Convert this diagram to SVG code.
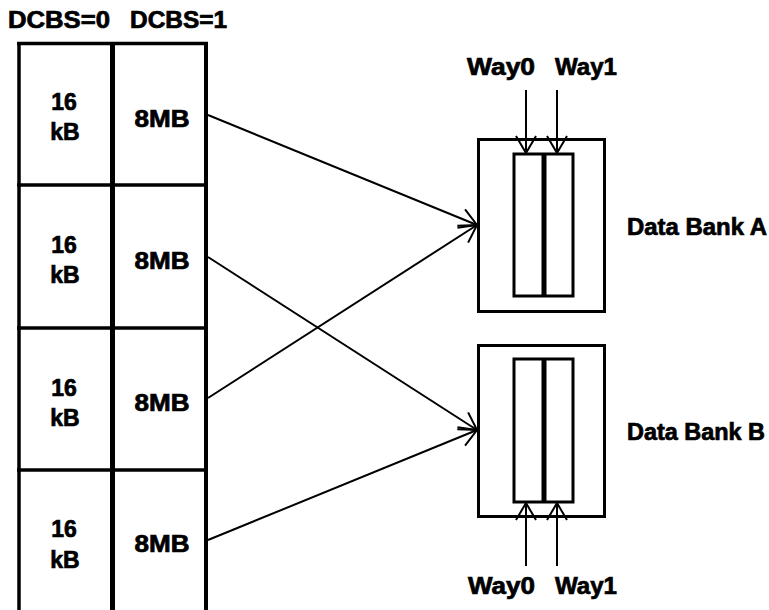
<svg xmlns="http://www.w3.org/2000/svg" width="769" height="610" viewBox="0 0 769 610">
<style>
text{font-family:"Liberation Sans",Arial,sans-serif;font-weight:bold;font-size:23px;fill:#000;stroke:#000;stroke-width:0.7}
.c{text-anchor:middle}
.tb{stroke:#000;fill:none}
.bx{stroke:#000;stroke-width:3;fill:#fff}
.cn{stroke:#000;stroke-width:2;fill:none;marker-end:url(#ah)}
</style>
<defs>
<marker id="ah" markerUnits="userSpaceOnUse" viewBox="-20 -12 22 24" refX="0" refY="0" markerWidth="22" markerHeight="24" orient="auto">
<path d="M-17,-10 L0,0 L-17,10" fill="none" stroke="#000" stroke-width="2"/>
</marker>
</defs>
<rect width="769" height="610" fill="#fff"/>
<g id="headers">
<text x="8" y="28" textLength="102" lengthAdjust="spacingAndGlyphs">DCBS=0</text>
<text x="130" y="28" textLength="97" lengthAdjust="spacingAndGlyphs">DCBS=1</text>
</g>
<g id="table">
<line class="tb" x1="19" y1="42" x2="19" y2="610" stroke-width="3.5"/>
<line class="tb" x1="112.5" y1="42" x2="112.5" y2="610" stroke-width="5"/>
<line class="tb" x1="206" y1="42" x2="206" y2="610" stroke-width="4"/>
<line class="tb" x1="17" y1="43.5" x2="208" y2="43.5" stroke-width="3.5"/>
<line class="tb" x1="17" y1="185" x2="208" y2="185" stroke-width="3.5"/>
<line class="tb" x1="17" y1="328" x2="208" y2="328" stroke-width="3.5"/>
<line class="tb" x1="17" y1="470" x2="208" y2="470" stroke-width="3.5"/>
</g>
<g id="row1">
<text class="c" x="64" y="110">16</text>
<text class="c" x="65" y="140">kB</text>
<text class="c" x="162" y="127" textLength="55" lengthAdjust="spacingAndGlyphs">8MB</text>
</g>
<g id="row2">
<text class="c" x="64" y="253">16</text>
<text class="c" x="65" y="283">kB</text>
<text class="c" x="162" y="269" textLength="55" lengthAdjust="spacingAndGlyphs">8MB</text>
</g>
<g id="row3">
<text class="c" x="64" y="396">16</text>
<text class="c" x="65" y="426">kB</text>
<text class="c" x="162" y="411" textLength="55" lengthAdjust="spacingAndGlyphs">8MB</text>
</g>
<g id="row4">
<text class="c" x="64" y="537">16</text>
<text class="c" x="65" y="568">kB</text>
<text class="c" x="162" y="552" textLength="55" lengthAdjust="spacingAndGlyphs">8MB</text>
</g>
<g id="bankA">
<rect class="bx" x="478.5" y="139.5" width="126" height="172"/>
<rect class="bx" x="514" y="154" width="59" height="142"/>
<line x1="544" y1="154" x2="544" y2="296" stroke="#000" stroke-width="5"/>
<text x="627" y="235" textLength="140" lengthAdjust="spacingAndGlyphs">Data Bank A</text>
</g>
<g id="bankB">
<rect class="bx" x="478.5" y="345.5" width="126" height="171"/>
<rect class="bx" x="514" y="359" width="59" height="143"/>
<line x1="544" y1="359" x2="544" y2="502" stroke="#000" stroke-width="5"/>
<text x="627" y="440" textLength="138" lengthAdjust="spacingAndGlyphs">Data Bank B</text>
</g>
<g id="wayLabels">
<text x="467" y="75" textLength="68" lengthAdjust="spacingAndGlyphs">Way0</text>
<text x="555" y="75" textLength="62" lengthAdjust="spacingAndGlyphs">Way1</text>
<text x="468" y="594" textLength="67" lengthAdjust="spacingAndGlyphs">Way0</text>
<text x="555" y="594" textLength="62" lengthAdjust="spacingAndGlyphs">Way1</text>
</g>
<g id="connectors">
<line class="cn" x1="208" y1="115" x2="477" y2="225"/>
<line class="cn" x1="208" y1="257" x2="477" y2="430"/>
<line class="cn" x1="208" y1="398" x2="477" y2="225"/>
<line class="cn" x1="208" y1="540" x2="477" y2="430"/>
<line class="cn" x1="526" y1="90" x2="526" y2="153" stroke-width="1.8"/>
<line class="cn" x1="557" y1="90" x2="557" y2="153" stroke-width="1.8"/>
<line class="cn" x1="526" y1="566" x2="526" y2="503" stroke-width="1.8"/>
<line class="cn" x1="557" y1="566" x2="557" y2="503" stroke-width="1.8"/>
</g>
</svg>
